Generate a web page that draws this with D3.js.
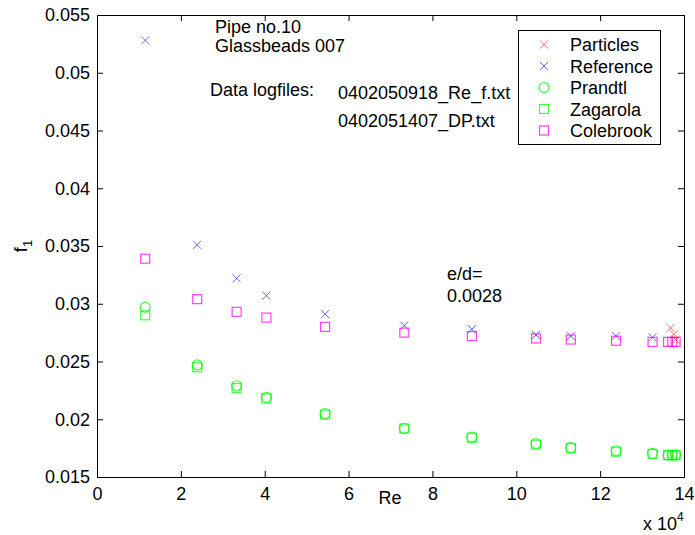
<!DOCTYPE html>
<html><head><meta charset="utf-8">
<script src="https://cdn.jsdelivr.net/npm/d3@7"></script>
<style>body{margin:0;background:#fff}svg{display:block}text{font-family:"Liberation Sans",Arial,sans-serif;fill:#000}</style>
</head><body><svg id="c" width="695" height="535"></svg>
<script>
// Data (Re in units of 1e4, friction factor f1)
const reMain = [1.15, 2.39, 3.33, 4.04, 5.44, 7.33, 8.94, 10.47, 11.3, 12.38, 13.25];
const reCluster = [13.62, 13.72, 13.8];
const particlesRe = [13.68, 13.76, 13.8];
const particlesF = [0.0279, 0.02735, 0.0269];
const referenceF = [0.0528, 0.0351, 0.0322, 0.0307, 0.0291, 0.0281, 0.0278, 0.0273, 0.0272, 0.0272, 0.0271];
const prandtlF = [0.0297, 0.0247, 0.0229, 0.0219, 0.0205, 0.0192, 0.01845, 0.0179, 0.01755, 0.01725, 0.01705, 0.0169, 0.0169, 0.0169];
const zagarolaF = [0.0290, 0.0245, 0.0227, 0.0218, 0.0204, 0.0192, 0.0184, 0.0178, 0.0175, 0.0172, 0.0170, 0.0169, 0.0169, 0.0169];
const colebrookF = [0.0339, 0.0304, 0.0293, 0.0288, 0.0280, 0.0275, 0.0272, 0.0270, 0.0269, 0.0268, 0.0267, 0.0267, 0.0267, 0.0267];
const xTicks = [0, 2, 4, 6, 8, 10, 12, 14];
const yTicks = [0.015, 0.02, 0.025, 0.03, 0.035, 0.04, 0.045, 0.05, 0.055];
const legendLabels = ["Particles", "Reference", "Prandtl", "Zagarola", "Colebrook"];
const colors = {red: "#ff0000", blue: "#0000ff", green: "#00ff00", magenta: "#ff00ff"};

const reAll = reMain.concat(reCluster);
const svg = d3.select("#c");
const L = 97, R = 684, T = 15, B = 477;
const FS = 18;
const x = d3.scaleLinear().domain([0, 14]).range([L, R]);
const y = d3.scaleLinear().domain([0.015, 0.055]).range([B, T]);
const fmtY = d => String(+d.toFixed(3));

// axes with inward ticks
const tl = 6;
svg.append("g").attr("transform", `translate(0,${B})`)
  .call(d3.axisBottom(x).tickValues(xTicks).tickSize(-tl).tickPadding(10).tickFormat(d => d));
svg.append("g").attr("transform", `translate(0,${T})`)
  .call(d3.axisTop(x).tickValues(xTicks).tickSize(-tl).tickFormat(""));
svg.append("g").attr("transform", `translate(${L},0)`)
  .call(d3.axisLeft(y).tickValues(yTicks).tickSize(-tl).tickPadding(7).tickFormat(fmtY));
svg.append("g").attr("transform", `translate(${R},0)`)
  .call(d3.axisRight(y).tickValues(yTicks).tickSize(-tl).tickFormat(""));
svg.selectAll(".domain").attr("stroke", "#000");
svg.selectAll(".tick line").attr("stroke", "#000");
svg.selectAll(".tick text").attr("font-size", FS).attr("font-family", "Liberation Sans, Arial, sans-serif").attr("fill", "#000");

// marker helpers
function cross(g, cx, cy, col) {
  const s = 4;
  g.append("path").attr("d", `M${cx - s},${cy - s}L${cx + s},${cy + s}M${cx - s},${cy + s}L${cx + s},${cy - s}`)
    .attr("stroke", col).attr("stroke-width", 1).attr("fill", "none").attr("opacity", 0.6);
}
function square(g, cx, cy, col) {
  const s = 4.5;
  g.append("rect").attr("x", cx - s).attr("y", cy - s).attr("width", 2 * s).attr("height", 2 * s)
    .attr("stroke", col).attr("stroke-width", 1.2).attr("fill", "none").attr("opacity", 0.75);
}
function circle(g, cx, cy, col) {
  g.append("circle").attr("cx", cx).attr("cy", cy).attr("r", 5)
    .attr("stroke", col).attr("stroke-width", 1.2).attr("fill", "none").attr("opacity", 0.75);
}

const pg = svg.append("g");
referenceF.forEach((v, i) => cross(pg, x(reMain[i]), y(v), colors.blue));
prandtlF.forEach((v, i) => circle(pg, x(reAll[i]), y(v), colors.green));
zagarolaF.forEach((v, i) => square(pg, x(reAll[i]), y(v), colors.green));
colebrookF.forEach((v, i) => square(pg, x(reAll[i]), y(v), colors.magenta));
particlesF.forEach((v, i) => cross(pg, x(particlesRe[i]), y(v), colors.red));

// axis labels
svg.append("text").attr("x", 390).attr("y", 504).attr("text-anchor", "middle").attr("font-size", FS).text("Re");
const yl = svg.append("text").attr("transform", "translate(27,246) rotate(-90)").attr("text-anchor", "middle").attr("font-size", FS);
yl.append("tspan").text("f");
yl.append("tspan").attr("font-size", 13).attr("dy", 5).text("1");
const xe = svg.append("text").attr("x", 643).attr("y", 530).attr("font-size", FS);
xe.append("tspan").text("x 10");
xe.append("tspan").attr("font-size", 12).attr("dy", -9).text("4");

// annotations
const ann = [
  ["Pipe no.10", 215, 33], ["Glassbeads 007", 215, 52],
  ["Data logfiles:", 210, 96], ["0402050918_Re_f.txt", 338, 99],
  ["0402051407_DP.txt", 338, 127], ["e/d=", 447, 280], ["0.0028", 447, 302]
];
ann.forEach(a => svg.append("text").attr("x", a[1]).attr("y", a[2]).attr("font-size", FS).text(a[0]));

// legend
const lg = svg.append("g");
lg.append("rect").attr("x", 518.5).attr("y", 30.5).attr("width", 142).attr("height", 114)
  .attr("fill", "#fff").attr("stroke", "#000").attr("stroke-width", 1);
const rowY = [44.5, 66, 87.5, 109, 130.5];
const legendDraw = [
  g => cross(g, 544, rowY[0], colors.red),
  g => cross(g, 544, rowY[1], colors.blue),
  g => circle(g, 544, rowY[2], colors.green),
  g => square(g, 544, rowY[3], colors.green),
  g => square(g, 544, rowY[4], colors.magenta)
];
legendLabels.forEach((t, i) => {
  legendDraw[i](lg);
  lg.append("text").attr("x", 570).attr("y", rowY[i] + 6.5).attr("font-size", FS).text(t);
});
</script></body></html>
